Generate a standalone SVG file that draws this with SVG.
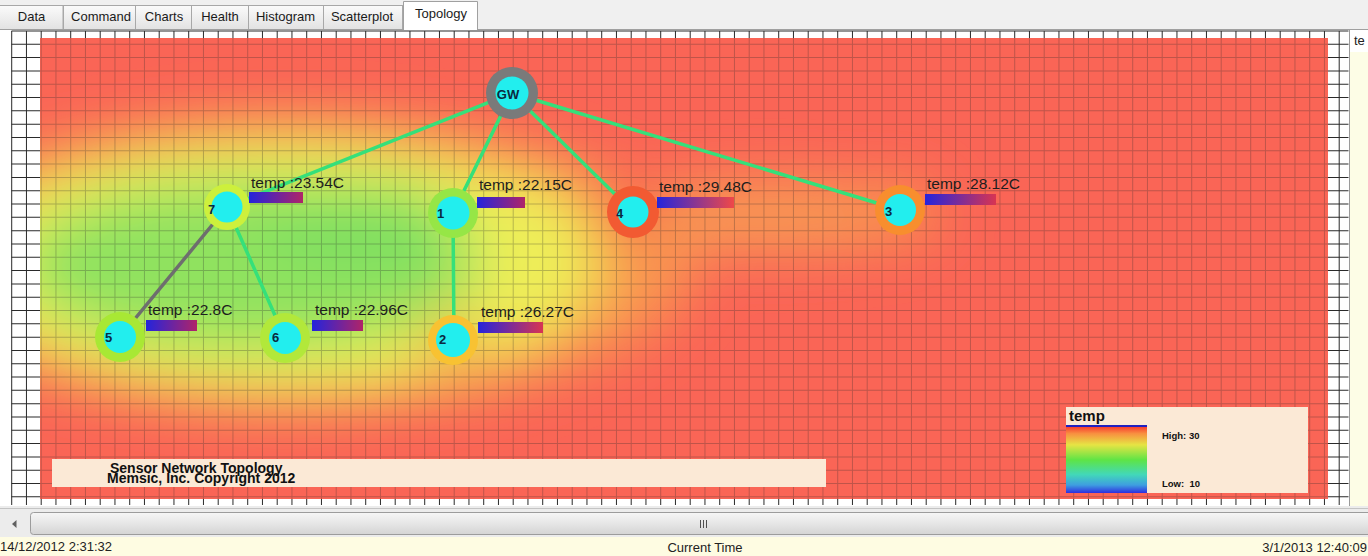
<svg xmlns="http://www.w3.org/2000/svg" xmlns:xlink="http://www.w3.org/1999/xlink" width="1368" height="556" viewBox="0 0 1368 556">
<style>
.tab{fill:url(#tabg);stroke:#a8a8a8;stroke-width:1}
.tabt{font-family:"Liberation Sans",Arial,sans-serif;font-size:13px;fill:#1a1a1a;text-anchor:middle}
.lbl{font-family:"Liberation Sans",Arial,sans-serif;font-size:15.5px;fill:#1e1e1e}
.nid{font-family:"Liberation Sans",Arial,sans-serif;font-size:13px;font-weight:bold;fill:#0a2a40}
.core{fill:#22eeee}
.link{stroke:#35e07a;stroke-width:3.5;stroke-linecap:round}
.link2{stroke:#6e6e6e;stroke-width:3.5;stroke-linecap:round}
.stat{font-family:"Liberation Sans",Arial,sans-serif;font-size:13px;fill:#222}
.box{fill:#fbe9d6}
.bold{font-family:"Liberation Sans",Arial,sans-serif;font-weight:bold;fill:#111}
</style>
<defs>
<linearGradient id="tabg" x1="0" y1="0" x2="0" y2="1"><stop offset="0" stop-color="#fbfbfb"/><stop offset="1" stop-color="#e2e2e2"/></linearGradient>
<linearGradient id="thumb" x1="0" y1="0" x2="0" y2="1"><stop offset="0" stop-color="#f6f6f6"/><stop offset="0.5" stop-color="#e6e6e6"/><stop offset="1" stop-color="#d4d4d4"/></linearGradient>
<linearGradient id="barLo" x1="0" y1="0" x2="1" y2="0"><stop offset="0" stop-color="#2424dc"/><stop offset="1" stop-color="#b02468"/></linearGradient>
<linearGradient id="barMid" x1="0" y1="0" x2="1" y2="0"><stop offset="0" stop-color="#2424dc"/><stop offset="1" stop-color="#d83452"/></linearGradient>
<linearGradient id="barHi" x1="0" y1="0" x2="1" y2="0"><stop offset="0" stop-color="#2424dc"/><stop offset="1" stop-color="#f04848"/></linearGradient>
<linearGradient id="legendg" x1="0" y1="0" x2="0" y2="1">
<stop offset="0" stop-color="#f84030"/><stop offset="0.1" stop-color="#f89040"/><stop offset="0.27" stop-color="#e6e444"/><stop offset="0.5" stop-color="#5ee446"/><stop offset="0.72" stop-color="#42d8b8"/><stop offset="0.88" stop-color="#3e9ee0"/><stop offset="1" stop-color="#2e2ee0"/>
</linearGradient>
<clipPath id="heatClip"><rect x="40" y="38" width="1288" height="461"/></clipPath>
<filter id="blur" filterUnits="userSpaceOnUse" x="0" y="0" width="1368" height="556"><feGaussianBlur stdDeviation="28"/></filter>
</defs>

<!-- window chrome -->
<rect x="0" y="0" width="1368" height="556" fill="#ffffff"/>
<rect x="0" y="0" width="1368" height="30" fill="#f0f0f0"/>
<g id="tabs">
<rect class="tab" x="-1" y="5.5" width="64" height="24"/><text class="tabt" x="31.5" y="21">Data</text>
<rect class="tab" x="63.5" y="5.5" width="72" height="24"/><text class="tabt" x="101" y="21">Command</text>
<rect class="tab" x="135.5" y="5.5" width="56" height="24"/><text class="tabt" x="164" y="21">Charts</text>
<rect class="tab" x="191.5" y="5.5" width="57" height="24"/><text class="tabt" x="220" y="21">Health</text>
<rect class="tab" x="248.5" y="5.5" width="75" height="24"/><text class="tabt" x="285.5" y="21">Histogram</text>
<rect class="tab" x="323.5" y="5.5" width="79" height="24"/><text class="tabt" x="362" y="21">Scatterplot</text>
<line x1="0" y1="29.5" x2="1368" y2="29.5" stroke="#a0a0a0"/>
<path d="M403.5 30 V1.5 H477.5 V30" fill="#ffffff" stroke="#a0a0a0"/>
<text class="tabt" x="441" y="18">Topology</text>
</g>

<!-- grid -->
<g id="grid" stroke="#2a2a2a">
<line x1="11.2" y1="268" x2="1349" y2="268" stroke-width="474" stroke-dasharray="1 13.75"/>
<line x1="680" y1="30.5" x2="680" y2="499" stroke-width="1337" stroke-dasharray="1 12.31"/>
</g>

<!-- heat map -->
<g id="heatmap" clip-path="url(#heatClip)">
<rect x="40" y="38" width="1288" height="461" fill="#fa6556"/>
<g filter="url(#blur)">
<ellipse cx="290" cy="265" rx="405" ry="145" fill="#f99850"/>
<ellipse cx="770" cy="216" rx="175" ry="36" fill="#f89a52"/>
<circle cx="900" cy="212" r="32" fill="#f9924e"/>
<ellipse cx="280" cy="265" rx="320" ry="130" fill="#eeee58"/>
<ellipse cx="510" cy="225" rx="70" ry="50" fill="#eeee58"/>
<circle cx="453" cy="345" r="38" fill="#f2c650"/>
<ellipse cx="250" cy="265" rx="230" ry="85" fill="#90e25e"/>
<ellipse cx="360" cy="228" rx="100" ry="45" fill="#80e060"/>
<circle cx="633" cy="212" r="30" fill="#f77048"/>
</g>
<use xlink:href="#grid" opacity="0.28"/>
</g>

<!-- right panel -->
<g id="sidepanel">
<rect x="1349" y="30" width="19" height="478" fill="#fdfde6"/>
<rect x="1349" y="30" width="19" height="22" fill="#ffffff"/>
<line x1="1349.5" y1="30" x2="1349.5" y2="508" stroke="#9a9a9a"/>
<text class="stat" x="1354" y="45" font-size="12">te</text>
</g>

<!-- connectors -->
<g id="connectors">
<line class="link" x1="512" y1="93" x2="227" y2="207"/>
<line class="link" x1="512" y1="93" x2="453" y2="213"/>
<line class="link" x1="512" y1="93" x2="633" y2="212"/>
<line class="link" x1="512" y1="93" x2="900" y2="210"/>
<line class="link" x1="227" y1="207" x2="285" y2="338"/>
<line class="link2" x1="227" y1="207" x2="120" y2="337"/>
<line class="link" x1="453" y1="213" x2="454" y2="340"/>
</g>

<!-- nodes -->
<g id="node-GW">
<circle cx="512" cy="93" r="26" fill="#7a7a7a"/><circle class="core" cx="512" cy="93" r="16.5"/>
<text class="nid" x="508" y="98.5" font-size="13.5" text-anchor="middle">GW</text>
</g>
<g id="node-7">
<circle cx="227" cy="207" r="23" fill="#cdf03c"/><circle class="core" cx="227" cy="207" r="15.5"/>
<text class="nid" x="208" y="213.5">7</text>
<text class="lbl" x="251" y="188">temp :23.54C</text>
<rect x="249" y="192" width="54" height="11" fill="url(#barLo)"/>
</g>
<g id="node-1">
<circle cx="453" cy="213" r="25" fill="#96e646"/><circle class="core" cx="453" cy="213" r="16.5"/>
<text class="nid" x="437" y="218">1</text>
<text class="lbl" x="479" y="190">temp :22.15C</text>
<rect x="477" y="197" width="48" height="11" fill="url(#barLo)"/>
</g>
<g id="node-4">
<circle cx="633" cy="212" r="26" fill="#f25a32"/><circle class="core" cx="633" cy="212" r="15.5"/>
<text class="nid" x="616" y="218">4</text>
<text class="lbl" x="659" y="192">temp :29.48C</text>
<rect x="657" y="197" width="77" height="11" fill="url(#barHi)"/>
</g>
<g id="node-3">
<circle cx="900" cy="210" r="25" fill="#f88e2e"/><circle class="core" cx="900" cy="210" r="16"/>
<text class="nid" x="885" y="216">3</text>
<text class="lbl" x="927" y="189">temp :28.12C</text>
<rect x="925" y="194" width="71" height="11" fill="url(#barMid)"/>
</g>
<g id="node-5">
<circle cx="120" cy="337" r="25" fill="#a8e834"/><circle class="core" cx="120" cy="337" r="16"/>
<text class="nid" x="105" y="342">5</text>
<text class="lbl" x="148" y="315">temp :22.8C</text>
<rect x="146" y="320" width="51" height="11" fill="url(#barLo)"/>
</g>
<g id="node-6">
<circle cx="285" cy="338" r="25" fill="#b2e83a"/><circle class="core" cx="285" cy="338" r="16"/>
<text class="nid" x="272" y="342">6</text>
<text class="lbl" x="315" y="315">temp :22.96C</text>
<rect x="312" y="320" width="51" height="11" fill="url(#barLo)"/>
</g>
<g id="node-2">
<circle cx="453" cy="340" r="25" fill="#f8c232"/><circle class="core" cx="453" cy="340" r="17"/>
<text class="nid" x="439" y="344">2</text>
<text class="lbl" x="481" y="317">temp :26.27C</text>
<rect x="478" y="322" width="65" height="11" fill="url(#barMid)"/>
</g>

<!-- legend -->
<g id="legend">
<rect class="box" x="1066" y="407" width="242" height="86"/>
<text class="bold" x="1069" y="421" font-size="15">temp</text>
<rect x="1066" y="427" width="81" height="66" fill="url(#legendg)"/>
<rect x="1066" y="425" width="81" height="2" fill="#2020c0"/>
<text class="bold" x="1162" y="439" font-size="9.5">High: 30</text>
<text class="bold" x="1162" y="487" font-size="9.5" xml:space="preserve">Low:  10</text>
</g>

<!-- title box -->
<g id="title">
<rect class="box" x="52" y="459" width="774" height="28"/>
<text class="bold" x="110" y="473" font-size="14">Sensor Network Topology</text>
<text class="bold" x="107" y="483" font-size="14">Memsic, Inc. Copyright 2012</text>
</g>

<!-- scrollbar -->
<g id="scrollbar">
<rect x="0" y="506" width="1368" height="31" fill="#ececec"/>
<line x1="0" y1="508.5" x2="1368" y2="508.5" stroke="#c4c4c4"/>
<rect x="30.5" y="512.5" width="1345" height="22" rx="3" fill="url(#thumb)" stroke="#9c9c9c"/>
<polygon points="12,524 16.5,520 16.5,528" fill="#606060"/>
<g stroke="#505050" stroke-width="1"><line x1="700.5" y1="520" x2="700.5" y2="528"/><line x1="703.5" y1="520" x2="703.5" y2="528"/><line x1="706.5" y1="520" x2="706.5" y2="528"/></g>
</g>

<!-- status bar -->
<g id="status">
<rect x="0" y="537" width="1368" height="19" fill="#fefce2"/>
<text class="stat" x="0" y="551">14/12/2012 2:31:32</text>
<text class="stat" x="705" y="552" text-anchor="middle">Current Time</text>
<text class="stat" x="1367" y="552" text-anchor="end">3/1/2013 12:40:09</text>
</g>
</svg>
